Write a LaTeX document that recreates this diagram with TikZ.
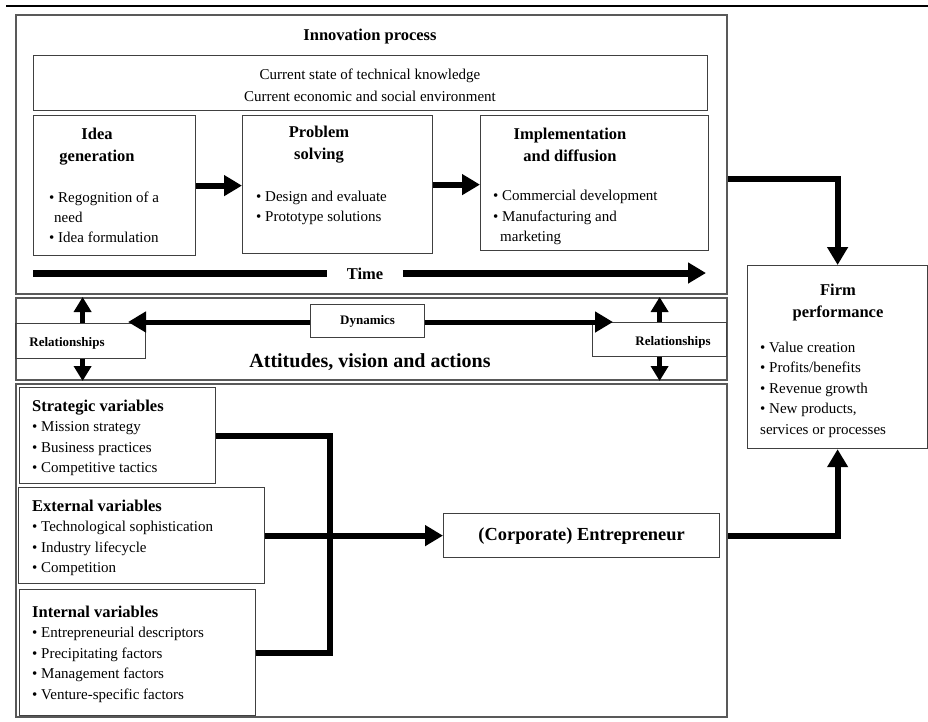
\documentclass[tikz,border=0pt]{standalone}
\usepackage{fontspec}
\setmainfont{Liberation Serif}
\usetikzlibrary{arrows.meta}

\begin{document}
\begin{tikzpicture}[x=1pt,y=-1pt,inner sep=0pt,line join=miter,
  box/.style={draw=black!75,line width=1.2pt,anchor=north west},
  frame/.style={box,draw=black!65,line width=2pt},
  head/.style={font=\fontsize{16.5}{22}\selectfont\bfseries,align=center},
  item/.style={font=\fontsize{15}{20.5}\selectfont,anchor=base west},
  tag/.style={font=\fontsize{13}{15}\selectfont\bfseries},
  flow/.style={line width=6pt,-{Triangle[length=18pt,width=20pt]}},
  bar/.style={line width=6pt},
  rel/.style={line width=4.5pt,-{Triangle[length=15pt,width=17pt]}}]
\useasboundingbox (0,0) rectangle (928,721);
\draw[line width=2.5pt] (6,6) -- (928,6);

% innovation process
\node[frame,minimum width=711pt,minimum height=279pt] (inno) at (15,14) {};
\node[head,anchor=base] (innoT) at (370,40) {Innovation process};
\node[box,minimum width=674pt,minimum height=55pt] (ctx) at (33,55) {};
\node[align=center,font=\fontsize{15}{22}\selectfont] (ctxT) at (370,85.5)
  {Current state of technical knowledge\\Current economic and social environment};
\node[box,minimum width=162pt,minimum height=140pt] (idea) at (33,115) {};
\node[box,minimum width=190pt,minimum height=138pt] (prob) at (242,115) {};
\node[box,minimum width=228pt,minimum height=135pt] (impl) at (480,115) {};
\node[head] (ideaT) at (97,147) {Idea\\generation};
\node[head] (probT) at (319,145) {Problem\\solving};
\node[head] (implT) at (570,145) {Implementation\\and diffusion};
\foreach \t/\x/\y [count=\i] in {• Regognition of a/49/202,need/54/222,• Idea formulation/49/242}
  \node[item] (idea-\i) at (\x,\y) {\t};
\foreach \t [count=\i] in {Design and evaluate,Prototype solutions}
  \node[item] (prob-\i) at (256,{180.5+\i*20.5}) {• \t};
\foreach \t/\x/\y [count=\i] in {• Commercial development/493/200,• Manufacturing and/493/221,marketing/500/241}
  \node[item] (impl-\i) at (\x,\y) {\t};
\draw[flow] (idea.east) -- (idea.east -| prob.west);
\draw[flow] (prob.east) -- (prob.east -| impl.west);

% time axis
\coordinate (t0) at (33,273);
\coordinate (t1) at (706,273);
\node[head,anchor=base,inner xsep=19.5pt] (time) at (365,279) {Time};
\draw[bar,line width=7pt] (t0) -- (t0 -| time.west);
\draw[flow,line width=7pt] (time.east |- t1) -- (t1);

% attitudes band
\node[frame,minimum width=711pt,minimum height=82pt] (att) at (15,297) {};
\node[font=\fontsize{20}{24}\selectfont\bfseries,anchor=base] (attT) at (370,367) {Attitudes, vision and actions};
\node[box,minimum width=130pt,minimum height=35pt] (relL) at (15,323) {};
\node[tag,anchor=base] (relLT) at (67,346) {Relationships};
\node[box,minimum width=134pt,minimum height=34pt] (relR) at (592,322) {};
\node[tag,anchor=base] (relRT) at (673,345) {Relationships};
\node[box,tag,minimum width=114pt,minimum height=33pt] (dyn) at (310,304) {Dynamics};
\coordinate (dynL) at (128,322);
\coordinate (dynR) at (613,322);
\draw[flow,line width=5pt] (dyn.west |- dynL) -- (dynL);
\draw[flow,line width=5pt] (dyn.east |- dynR) -- (dynR);
\draw[rel] ([xshift=2pt]relL.north) -- ([xshift=2pt]relL.north |- att.north);
\draw[rel] ([xshift=2pt]relL.south) -- ([xshift=2pt]relL.south |- att.south);
\draw[rel] (relR.north) -- (relR.north |- att.north);
\draw[rel] (relR.south) -- (relR.south |- att.south);

% variables and entrepreneur
\node[frame,minimum width=711pt,minimum height=333pt] (bot) at (15,383) {};
\node[box,minimum width=196pt,minimum height=96pt] (strat) at (19,387) {};
\node[head,anchor=base west] (stratT) at (32,411) {Strategic variables};
\foreach \t [count=\i] in {Mission strategy,Business practices,Competitive tactics}
  \node[item] (strat-\i) at (32,{411+\i*20.5}) {• \t};
\node[box,minimum width=246pt,minimum height=96pt] (ext) at (18,487) {};
\node[head,anchor=base west] (extT) at (32,511) {External variables};
\foreach \t [count=\i] in {Technological sophistication,Industry lifecycle,Competition}
  \node[item] (ext-\i) at (32,{511+\i*20.5}) {• \t};
\node[box,minimum width=236pt,minimum height=126pt] (int) at (19,589) {};
\node[head,anchor=base west] (intT) at (32,617) {Internal variables};
\foreach \t [count=\i] in {Entrepreneurial descriptors,Precipitating factors,Management factors,Venture-specific factors}
  \node[item] (int-\i) at (32,{617+\i*20.5}) {• \t};
\node[box,minimum width=276pt,minimum height=44pt,font=\fontsize{18.4}{22}\selectfont\bfseries] (ent) at (443,513) {(Corporate) Entrepreneur};
\coordinate (jn) at (330,535);
\draw[bar] (strat.east) -| (jn) |- (int.east);
\draw[flow] (ext.east) -- (ext.east -| ent.west);

% firm performance
\node[box,minimum width=180pt,minimum height=183pt] (firm) at (747,265) {};
\node[head] (firmT) at (838,303) {Firm\\performance};
\foreach \t [count=\i from 0] in {• Value creation,• Profits/benefits,• Revenue growth,{• New products,},services or processes}
  \node[item] (firm-\i) at (760,{352+\i*20.5}) {\t};
\draw[flow] ([yshift=4.5pt]impl.east -| inno.east) -| (firm.north);
\draw[flow] (ent.east -| bot.east) -| (firm.south);
\end{tikzpicture}
\end{document}
